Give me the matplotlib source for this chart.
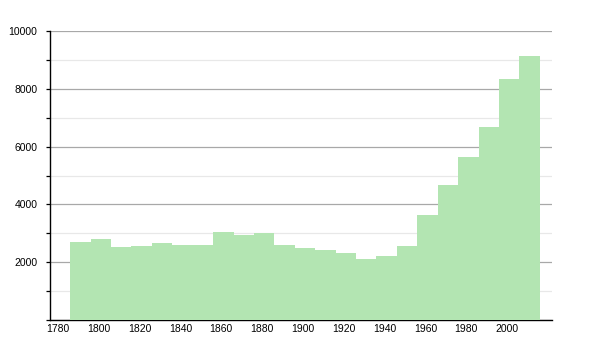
import matplotlib
matplotlib.use("Agg")
import matplotlib.pyplot as plt
import numpy as np

# decade bins (centre years) and population values
years = [1791, 1801, 1811, 1821, 1831, 1841, 1851, 1861, 1871, 1881, 1891, 1901,
         1911, 1921, 1931, 1941, 1951, 1961, 1971, 1981, 1991, 2001, 2011]
population = [2710, 2800, 2540, 2570, 2660, 2600, 2600, 3030, 2950, 3000, 2600, 2490,
              2420, 2310, 2110, 2210, 2560, 3630, 4670, 5650, 6670, 8340, 9150]
x_ticks = list(range(1780, 2001, 20))
y_major = list(range(0, 10001, 2000))
y_minor = list(range(1000, 10000, 2000))

plt.rcParams['font.family'] = ['Liberation Sans', 'DejaVu Sans']

fig = plt.figure(figsize=(6, 3.5), dpi=100)
ax = fig.add_axes([0.083, 0.086, 0.837, 0.825])

ax.bar(years, population, width=10, color='#b3e5b2', linewidth=0, zorder=3)

ax.set_xlim(1776, 2022)
ax.set_ylim(0, 10000)
ax.set_xticks(x_ticks)
ax.set_yticks(y_major)
ax.set_yticks(y_minor, minor=True)

ax.grid(axis='y', which='major', color='#a8a8a8', linewidth=0.9, zorder=0)
ax.grid(axis='y', which='minor', color='#e8e8e8', linewidth=0.9, zorder=0)
ax.set_axisbelow(True)

for s in ['top', 'right']:
    ax.spines[s].set_visible(False)
ax.spines['left'].set_linewidth(1.0)
ax.spines['bottom'].set_linewidth(1.0)

ax.tick_params(axis='x', length=0, labelsize=7.5, pad=3)
ax.tick_params(axis='y', which='both', length=3, width=0.9, labelsize=7.5, pad=6)
ax.set_yticklabels([str(v) if v > 0 else '' for v in y_major])

fig.savefig('out.png', dpi=100)
